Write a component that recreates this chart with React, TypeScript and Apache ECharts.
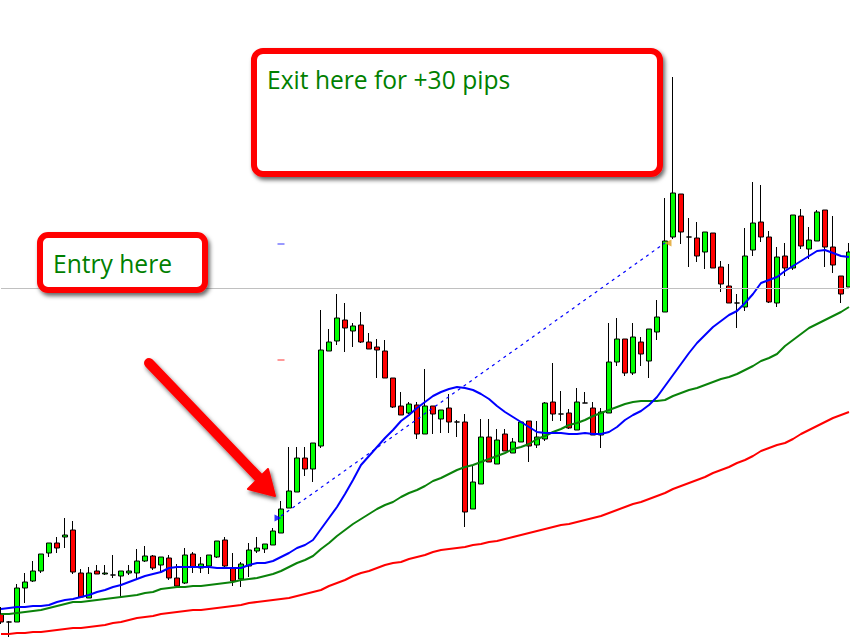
import React, { useEffect, useRef } from "react";
import * as echarts from "echarts";

// Bar labels (hourly bars, oldest first)
const categories = [
  "1","2","3","4","5","6","7","8","9","10","11","12","13","14","15","16","17","18","19","20",
  "21","22","23","24","25","26","27","28","29","30","31","32","33","34","35","36","37","38","39","40",
  "41","42","43","44","45","46","47","48","49","50","51","52","53","54","55","56","57","58","59","60",
  "61","62","63","64","65","66","67","68","69","70","71","72","73","74","75","76","77","78","79","80",
  "81","82","83","84","85","86","87","88","89","90","91","92","93","94","95","96","97","98","99","100",
  "101","102","103","104","105","106","107",
];

// Candles in price points: [open, close, low, high]
const candles = [
  [386, 378, 376, 393], [378, 378, 363, 379], [378, 412, 378, 416], [412, 418, 397, 427],
  [419, 429, 418, 439], [429, 446, 427, 446], [447, 457, 443, 457], [457, 452, 447, 463],
  [463, 465, 452, 482], [470, 428, 426, 479], [427, 403, 402, 431], [402, 427, 402, 433],
  [429, 426, 426, 435], [426, 427, 425, 435], [425, 425, 422, 445], [424, 429, 403, 429],
  [427, 429, 425, 435], [427, 439, 420, 451], [439, 444, 438, 454], [444, 432, 430, 445],
  [435, 443, 428, 443], [442, 422, 420, 445], [422, 414, 413, 436], [417, 445, 416, 452],
  [446, 433, 427, 448], [432, 436, 427, 443], [434, 445, 426, 445], [443, 459, 442, 459],
  [460, 434, 433, 463], [432, 419, 414, 447], [421, 436, 413, 438], [434, 450, 423, 457],
  [449, 452, 447, 463], [451, 456, 447, 456], [455, 469, 455, 472], [467, 491, 467, 499],
  [492, 509, 492, 553], [508, 542, 508, 553], [542, 531, 524, 553], [531, 557, 518, 557],
  [554, 650, 552, 690], [649, 658, 649, 671], [659, 682, 655, 706], [680, 672, 648, 697],
  [669, 674, 653, 677], [675, 658, 657, 688], [658, 651, 651, 667], [653, 650, 622, 661],
  [649, 622, 622, 660], [622, 593, 592, 622], [594, 585, 585, 608], [587, 596, 586, 598],
  [595, 566, 561, 598], [566, 594, 566, 631], [594, 586, 566, 594], [581, 590, 567, 590],
  [592, 578, 567, 606], [578, 578, 563, 580], [578, 488, 473, 586], [491, 518, 491, 534],
  [516, 563, 516, 581], [563, 538, 538, 581], [536, 560, 536, 571], [566, 549, 549, 571],
  [547, 558, 547, 562], [558, 578, 558, 579], [579, 554, 538, 579], [555, 563, 552, 579],
  [561, 597, 559, 598], [598, 586, 579, 637], [586, 586, 579, 609], [587, 572, 571, 591],
  [570, 598, 570, 612], [597, 597, 597, 608], [592, 565, 565, 598], [565, 588, 552, 592],
  [587, 638, 587, 677], [638, 661, 634, 682], [661, 627, 624, 661], [627, 663, 625, 677],
  [658, 646, 634, 663], [639, 671, 622, 671], [668, 683, 660, 700], [688, 759, 688, 802],
  [763, 807, 761, 923], [806, 768, 756, 806], [763, 763, 733, 782], [762, 744, 738, 778],
  [748, 768, 731, 768], [767, 732, 732, 767], [733, 716, 708, 739], [714, 697, 697, 736],
  [697, 697, 672, 706], [693, 744, 689, 772], [750, 777, 744, 818], [778, 763, 758, 815],
  [763, 698, 697, 769], [697, 743, 693, 753], [744, 732, 724, 757], [732, 785, 730, 785],
  [784, 754, 751, 791], [751, 760, 741, 773], [759, 788, 759, 790], [790, 753, 733, 790],
  [753, 735, 727, 784], [724, 706, 697, 724], [713, 748, 713, 757],
];

// Moving averages
const maFast = [
  391, 392, 393, 393, 394, 394, 395, 398, 400, 401,
  403, 405, 408, 410, 413, 415, 418, 421, 424, 426,
  428, 432, 433, 433, 433, 433, 433, 432, 432, 432,
  432, 435, 437, 437, 439, 443, 447, 452, 455, 460,
  471, 482, 493, 506, 520, 535, 544, 553, 562, 570,
  579, 585, 592, 598, 604, 608, 611, 613, 612, 610,
  606, 601, 594, 588, 583, 578, 573, 568, 567, 567,
  567, 566, 566, 567, 566, 566, 568, 573, 580, 585,
  589, 595, 603, 614, 625, 636, 647, 657, 665, 673,
  679, 685, 689, 697, 706, 717, 720, 723, 729, 734,
  739, 744, 749, 750, 747, 744, 743,
];
const maMid = [
  386, 386, 387, 388, 389, 390, 392, 394, 396, 398,
  398, 399, 400, 401, 402, 403, 404, 405, 407, 408,
  411, 412, 413, 413, 414, 414, 415, 416, 417, 418,
  420, 421, 422, 424, 426, 429, 433, 437, 440, 444,
  451, 457, 464, 470, 476, 481, 486, 491, 495, 498,
  503, 507, 510, 514, 519, 522, 526, 530, 533, 535,
  538, 541, 544, 547, 551, 553, 556, 561, 564, 568,
  571, 575, 577, 580, 584, 587, 590, 593, 596, 598,
  599, 599, 599, 600, 604, 607, 610, 612, 615, 618,
  621, 623, 626, 630, 634, 639, 642, 646, 654, 660,
  666, 672, 676, 680, 684, 688, 693,
];
const maSlow = [
  366, 366, 367, 367, 368, 368, 369, 370, 371, 372,
  372, 373, 374, 375, 377, 378, 380, 382, 383, 384,
  386, 387, 388, 389, 390, 390, 391, 392, 393, 394,
  395, 397, 398, 399, 400, 401, 402, 404, 406, 408,
  410, 414, 417, 420, 424, 427, 429, 432, 435, 437,
  438, 441, 443, 445, 448, 450, 451, 452, 453, 455,
  456, 458, 459, 461, 463, 465, 467, 469, 471, 473,
  475, 476, 478, 480, 482, 484, 487, 490, 493, 496,
  498, 501, 504, 507, 511, 514, 517, 520, 523, 527,
  530, 533, 537, 540, 544, 549, 552, 555, 557, 561,
  566, 570, 574, 578, 582, 585, 588,
];

// Trade: entry bar / price, exit bar / price, and level marks
const entryBar = 35;
const entryPrice = 484;
const exitBar = 83;
const exitPrice = 757;
const takeProfitLevel = 756;
const stopLossLevel = 640;
const horizontalLevel = 712;

const annotations = ["Exit here for +30 pips", "Entry here"];

export default function App() {
  const ref = useRef<HTMLDivElement>(null);

  useEffect(() => {
    if (!ref.current) return;
    const chart = echarts.init(ref.current, null, { renderer: "svg" });
    const shadow = {
      shadowBlur: 4,
      shadowOffsetX: 2,
      shadowOffsetY: 3,
      shadowColor: "rgba(0,0,0,0.6)",
    };
    chart.setOption({
      animation: false,
      backgroundColor: "#ffffff",
      grid: { left: 1, right: 1, top: 0, bottom: 0 },
      xAxis: {
        type: "category",
        data: categories,
        boundaryGap: false,
        show: false,
      },
      yAxis: {
        type: "value",
        min: 356,
        max: 1000,
        show: false,
        splitLine: { show: false },
      },
      series: [
        {
          name: "levels",
          type: "scatter",
          z: 1,
          silent: true,
          symbol: "rect",
          symbolSize: [7, 1],
          data: [
            { value: [categories[entryBar], takeProfitLevel], itemStyle: { color: "#0000ff" } },
            { value: [categories[entryBar], stopLossLevel], itemStyle: { color: "#ff0000" } },
          ],
          markLine: {
            silent: true,
            symbol: ["none", "none"],
            label: { show: false },
            lineStyle: { color: "#c0c0c0", width: 1, type: "solid" },
            data: [{ yAxis: horizontalLevel }],
          },
        },
        {
          name: "price",
          type: "candlestick",
          z: 3,
          barWidth: 5,
          data: candles,
          itemStyle: {
            color: "#00ff00",
            color0: "#ff0000",
            borderColor: "#000000",
            borderColor0: "#000000",
            borderColorDoji: "#000000",
            borderWidth: 1,
          },
          markLine: {
            silent: true,
            symbol: ["none", "none"],
            label: { show: false },
            lineStyle: { color: "#0000ff", width: 1.2, type: [3, 4] },
            data: [
              [
                { coord: [categories[entryBar], entryPrice] },
                { coord: [categories[exitBar], exitPrice] },
              ],
            ],
          },
        },
        {
          name: "MA slow",
          type: "line",
          z: 4,
          data: maSlow,
          symbol: "none",
          lineStyle: { color: "#ff0000", width: 2 },
        },
        {
          name: "MA mid",
          type: "line",
          z: 4,
          data: maMid,
          symbol: "none",
          lineStyle: { color: "#0a820a", width: 2 },
        },
        {
          name: "MA fast",
          type: "line",
          z: 4,
          data: maFast,
          symbol: "none",
          lineStyle: { color: "#0000ff", width: 2 },
        },
        {
          name: "trades",
          type: "scatter",
          z: 5,
          silent: true,
          data: [
            {
              value: [categories[entryBar], entryPrice - 2],
              symbol: "triangle",
              symbolRotate: -90,
              symbolSize: 7,
              symbolOffset: [-3, 0],
              itemStyle: { color: "#0000ff" },
            },
            {
              value: [categories[exitBar], exitPrice],
              symbol: "triangle",
              symbolRotate: 90,
              symbolSize: 7,
              symbolOffset: [3, 0],
              itemStyle: { color: "#e0a020" },
            },
          ],
        },
      ],
      graphic: [
        {
          type: "rect",
          z: 100,
          shape: { x: 254, y: 51, width: 406, height: 123, r: 9 },
          style: { fill: "#ffffff", stroke: "#ff0000", lineWidth: 6, ...shadow },
        },
        {
          type: "text",
          z: 101,
          style: {
            text: annotations[0],
            x: 267,
            y: 79,
            fill: "#008000",
            font: '24.6px "Open Sans"',
            textVerticalAlign: "middle",
          },
        },
        {
          type: "rect",
          z: 100,
          shape: { x: 40, y: 235, width: 165, height: 55, r: 8 },
          style: { fill: "#ffffff", stroke: "#ff0000", lineWidth: 6, ...shadow },
        },
        {
          type: "text",
          z: 101,
          style: {
            text: annotations[1],
            x: 53,
            y: 263,
            fill: "#008000",
            font: '24.6px "Open Sans"',
            textVerticalAlign: "middle",
          },
        },
        {
          type: "line",
          z: 100,
          shape: { x1: 149, y1: 363, x2: 264, y2: 483 },
          style: { stroke: "#ff0000", lineWidth: 10, lineCap: "round", ...shadow },
        },
        {
          type: "polygon",
          z: 100,
          shape: { points: [[275, 496], [268, 469], [248, 489]] },
          style: { fill: "#ff0000", stroke: "#ff0000", lineWidth: 2, lineJoin: "round", ...shadow },
        },
      ],
    });
    return () => chart.dispose();
  }, []);

  return (
    <div
      ref={ref}
      style={{ position: "fixed", left: 0, top: 0, width: 850, height: 644, background: "#fff" }}
    />
  );
}
